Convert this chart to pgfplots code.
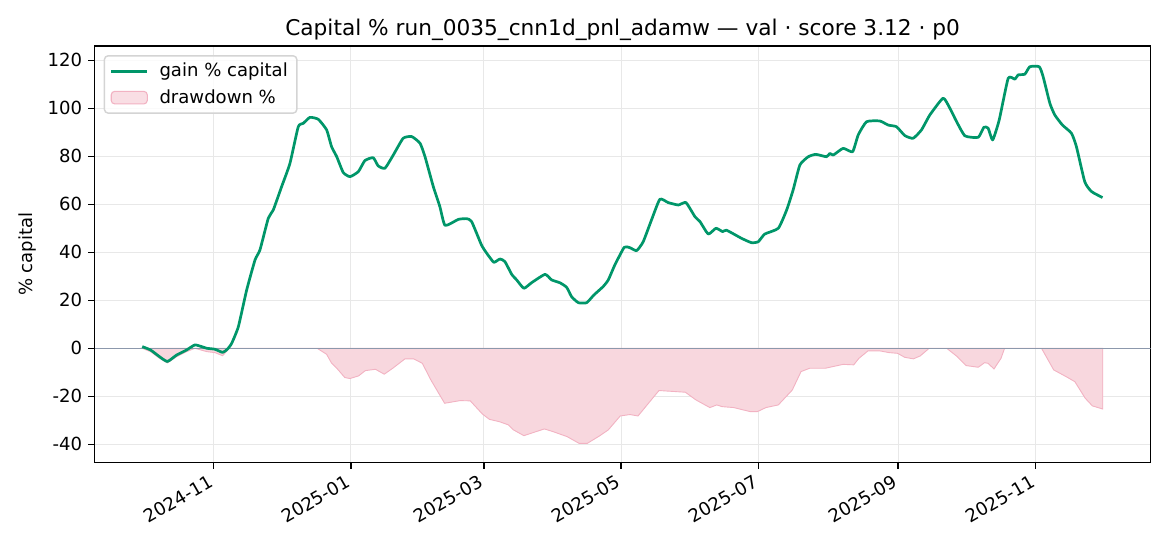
\documentclass[border=0pt]{standalone}
\usepackage{fontspec}
\setmainfont{DejaVu Sans}
\usepackage{pgfplots}
\pgfplotsset{compat=1.18}
\usepackage{pgfplotstable}
\definecolor{gainc}{RGB}{0,150,105}
\definecolor{ddfill}{RGB}{248,215,222}
\definecolor{ddedge}{RGB}{242,178,194}
\definecolor{zeroc}{RGB}{140,152,172}
\definecolor{gridc}{RGB}{232,232,232}
\definecolor{legc}{RGB}{212,212,212}

% x = days since 2024-11-01
\pgfplotstableread{
day gain
-31.7 0.7
-28 -0.7
-24 -3.5
-20.5 -5.5
-16.4 -2.8
-12 -0.7
-8.3 1.4
-5 0.6
-3 0
0.6 -0.4
4 -1.7
6 -0.5
8 2
11 9
14.7 24.3
18.4 36.8
20.6 41
24.3 54.2
26.5 57.6
30.2 67.3
33.9 77
37.6 92.3
39.8 93.7
42.8 96.2
46.5 95.4
50.2 91
52.4 84
54.7 79.8
57.6 73.2
60.6 71.5
64.3 73.6
67.2 78.2
70.9 79.4
73.1 76
76.1 75
79.8 80.5
84.2 87.5
88 88.2
91.7 85.4
93.9 79.8
97.6 67.3
100.5 59
102.8 51.2
108.7 53.7
112.4 54
114.6 52.8
119 43
121.3 39.6
122.4 38.2
124.5 35.8
127.2 37.2
129.4 36.1
132.4 30.8
134.6 28.5
137.8 25
141.2 27.3
147.2 30.8
150.1 28.5
153.8 27.3
156.8 25.4
159 21.5
162 19
165.7 19
168.9 22.2
173 25.7
175.3 28.5
178.2 34.7
182.4 42.1
184.9 41.9
187.9 40.7
190.8 44.4
194.5 53.5
198.2 62.1
201.9 60.7
206.4 59.7
209.8 60.7
213.8 54.8
216 52.8
219.7 47.6
223.1 50
226.1 48.6
227.8 49.2
234.5 45.8
238.9 44
241.9 44.4
244.8 47.6
250.8 50
254.5 57.6
257.4 66
260.4 76.4
264.1 79.8
267.5 80.8
272.2 79.8
273.7 81.2
275.2 80.5
279.6 83.3
283.8 81.9
286.3 88.9
290 94.4
295.9 94.7
299.6 93
303.3 92.3
307 88.6
310.7 87.5
314.4 91
318.1 97.2
324 104.2
327 100
330 94.4
333.7 88.5
339.6 87.9
342.1 92.1
344 91.7
346 86.8
348.9 95.1
352.9 112.5
355.9 112.1
357.3 113.9
360.3 114.2
362.5 117.3
366.7 117.3
368.4 113.2
371.4 102.1
373.6 97.2
377 93
381 89.6
383.2 84
386.9 69.4
389.9 65.3
394.8 62.8
}\gaintable

\pgfplotstableread{
day dd
-31.7 0
-28 -1.4
-24 -4.2
-20.5 -6.1
-16.4 -3.5
-12 -1.4
-8.3 0
-3 -1.4
0.6 -1.8
4 -3.1
7 0
46 0
50.2 -2.5
52.4 -6.2
54.7 -8.3
58.3 -12.2
60.6 -12.6
64.4 -11.5
67.4 -9.3
71.9 -8.75
75.8 -10.8
79.6 -8.3
85 -4.4
88.8 -4.4
92.7 -6.25
96.5 -13.2
102.6 -22.9
109.5 -21.8
114 -21.9
119.4 -27.4
122.5 -29.6
127 -30.6
130.9 -31.9
133.2 -34
137.8 -36.4
146.9 -33.6
150.7 -34.7
157 -36.8
162.3 -39.6
166 -39.6
171.4 -36.5
175.3 -34
180.6 -28.2
184.9 -27.6
188.5 -28.2
197.8 -17.6
209.5 -18.3
214.2 -21.5
220.4 -24.7
223.5 -23.6
225.8 -24.3
231 -24.7
238.4 -26.4
241.5 -26.4
245.3 -24.7
250.8 -23.6
257 -17.4
260.9 -9.7
264.8 -8.3
271.8 -8.3
273.7 -7.9
279.6 -6.7
284.3 -6.9
286.6 -4.2
290.6 -1.1
296 -1.1
300 -1.8
303.8 -2.1
306.9 -3.75
310.8 -4.4
313.8 -3.2
317.8 0
325.6 0
330.3 -3.5
334.2 -7.2
339.6 -7.9
342.4 -6
343.9 -6.25
346.6 -8.6
349.7 -4.2
351.3 0
367.7 0
373.1 -9
378.6 -11.8
382.5 -13.9
387.1 -20.8
390.3 -24
394.9 -25.3
394.9 0
}\ddtable

\begin{document}
\begin{tikzpicture}
\path ({-94.7*0.5538pt},{-83.7*0.5538pt}) rectangle ({1075.3*0.5538pt},{462.3*0.5538pt});
\begin{axis}[
  at={(0,0)}, anchor=south west,
  width=584.7pt, height=230.5pt, scale only axis,
  xmin=-52.8, xmax=416.1, ymin=-47.5, ymax=125.9,
  axis line style={line width=0.8pt, black},
  tick align=outside, major tick length=3.5pt,
  tick style={line width=0.8pt, black},
  xtick pos=lower, ytick pos=left,
  xtick={0,61,120,181,242,304,365},
  xticklabels={2024-11,2025-01,2025-03,2025-05,2025-07,2025-09,2025-11},
  ytick={-40,-20,0,20,40,60,80,100,120},
  /pgf/number format/assume math mode=true,
  ticklabel style={font=\fontsize{10}{12}\selectfont},
  xticklabel style={rotate=30, anchor=north east, xshift=-1pt, yshift=2.5pt},
  grid=major, major grid style={gridc, line width=0.6pt},
  title={Capital \% run\_0035\_cnn1d\_pnl\_adamw — val · score 3.12 · p0},
  title style={font=\fontsize{12}{14}\selectfont, yshift=-6.5pt},
  ylabel={\% capital},
  ylabel style={font=\fontsize{10}{12}\selectfont, at={(axis description cs:-0.0632,0.5)}, anchor=center},
  legend style={at={(axis description cs:0,1)}, xshift=5pt, yshift=-5pt, anchor=north west,
    draw=legc, rounded corners=2pt, fill=white, fill opacity=0.8, text opacity=1,
    font=\fontsize{10}{12}\selectfont, inner xsep=3pt, inner ysep=2pt,
    row sep=1.5pt, line width=0.8pt},
  legend cell align=left,
  reverse legend,
]
\addplot[fill=ddfill, draw=ddedge, line width=0.5pt,
  legend image code/.code={\draw[fill=ddfill, draw=ddedge, line width=0.6pt] (0pt,-3.5pt) rectangle (20pt,3.5pt); \path (24pt,0pt);}]
  table[x=day, y=dd] {\ddtable} \closedcycle;
\addlegendentry{drawdown \%}
\addplot[zeroc, line width=0.6pt, forget plot] coordinates {(-52.8,0) (416.1,0)};
\addplot[gainc, line width=1.5pt, line join=round, smooth, tension=0.3,
  legend image code/.code={\draw[gainc, line width=1.5pt] (0pt,0pt) -- (20pt,0pt); \path (24pt,0pt);}]
  table[x=day, y=gain] {\gaintable};
\addlegendentry{gain \% capital}
\end{axis}
\end{tikzpicture}
\end{document}
